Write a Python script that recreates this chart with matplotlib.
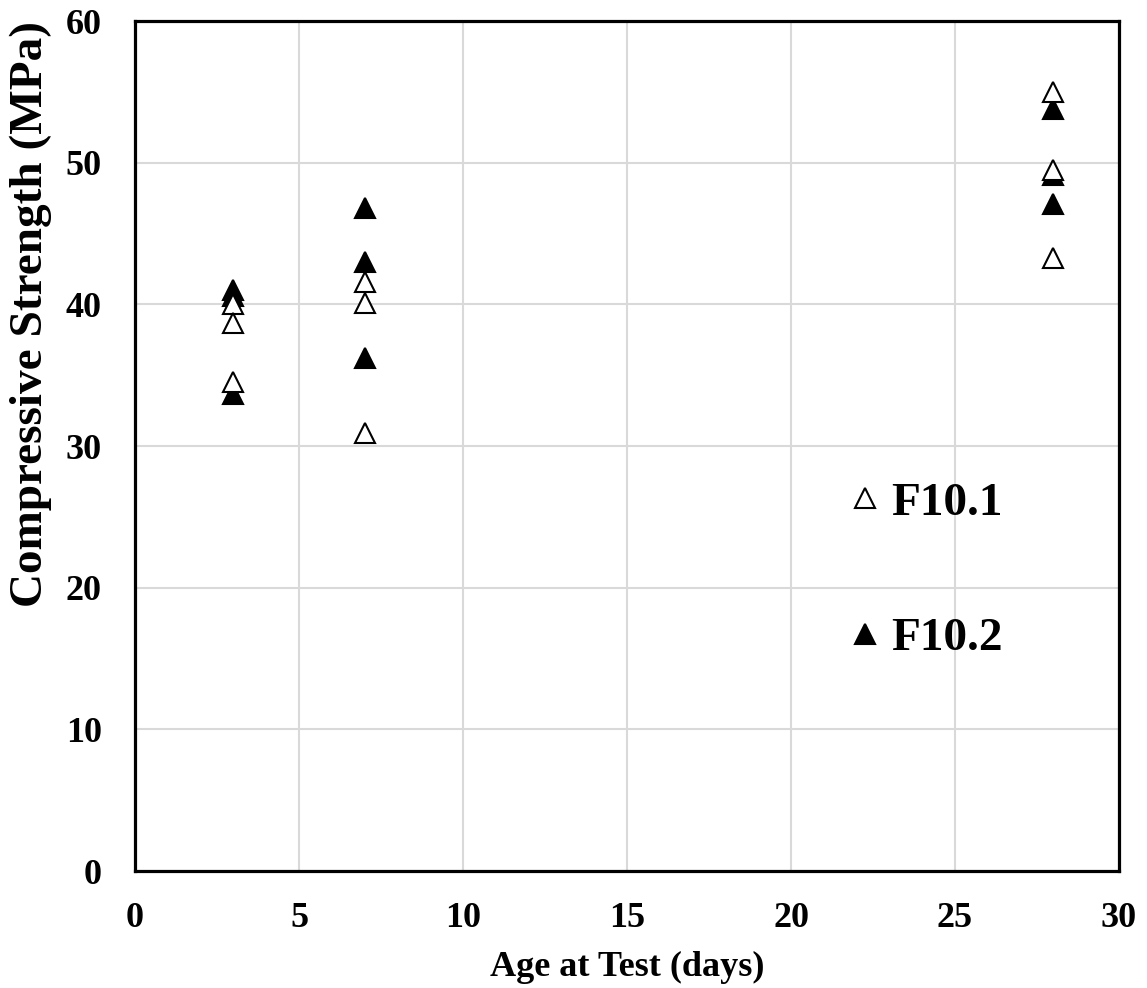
import matplotlib.pyplot as plt
from matplotlib.lines import Line2D

plt.rcParams['font.family'] = ['Liberation Serif', 'DejaVu Serif']
plt.rcParams['font.weight'] = 'bold'

# compressive strength results, three cylinders per age
age_f101 = [3, 3, 3, 7, 7, 7, 28, 28, 28]
strength_f101 = [40.0, 38.7, 34.5, 41.6, 40.1, 30.9, 55.0, 49.5, 43.3]

age_f102 = [3, 3, 3, 7, 7, 7, 28, 28, 28]
strength_f102 = [41.0, 40.6, 33.7, 46.8, 43.0, 36.2, 53.8, 49.1, 47.1]

series_names = ['F10.1', 'F10.2']

fig = plt.figure(figsize=(11.47, 9.88), dpi=100)
ax = fig.add_axes([0.1177, 0.1184, 0.8579, 0.8603])

ax.plot(age_f102, strength_f102, linestyle='none', marker='^', ms=15,
        mfc='black', mec='black', mew=1.5, zorder=3)
ax.plot(age_f101, strength_f101, linestyle='none', marker='^', ms=15,
        mfc='white', mec='black', mew=1.5, zorder=4)

ax.set_xlim(0, 30)
ax.set_ylim(0, 60)
ax.set_xticks(range(0, 31, 5))
ax.set_yticks(range(0, 61, 10))
ax.grid(True, color='#d9d9d9', linewidth=1.5)
ax.set_axisbelow(True)
for s in ax.spines.values():
    s.set_linewidth(2.3)

ax.tick_params(length=0, labelsize=26)
ax.tick_params(axis='x', pad=22)
ax.tick_params(axis='y', pad=24)
ax.set_xlabel('Age at Test (days)', fontsize=26, fontweight='bold', labelpad=12)
ax.set_ylabel('Compressive Strength (MPa)', fontsize=34, fontweight='bold')
ax.yaxis.set_label_coords(-0.084, 0.655)

handles = [
    Line2D([], [], linestyle='none', marker='^', ms=14, mfc='white', mec='black', mew=1.5),
    Line2D([], [], linestyle='none', marker='^', ms=14, mfc='black', mec='black', mew=1.5),
]
leg = ax.legend(handles, series_names, loc='upper left', bbox_to_anchor=(0.711, 0.48),
                frameon=False, fontsize=34, handlelength=0.5, handletextpad=0.3,
                labelspacing=1.95, borderaxespad=0)
for t in leg.get_texts():
    t.set_fontweight('bold')

fig.savefig('out.png', dpi=100)
